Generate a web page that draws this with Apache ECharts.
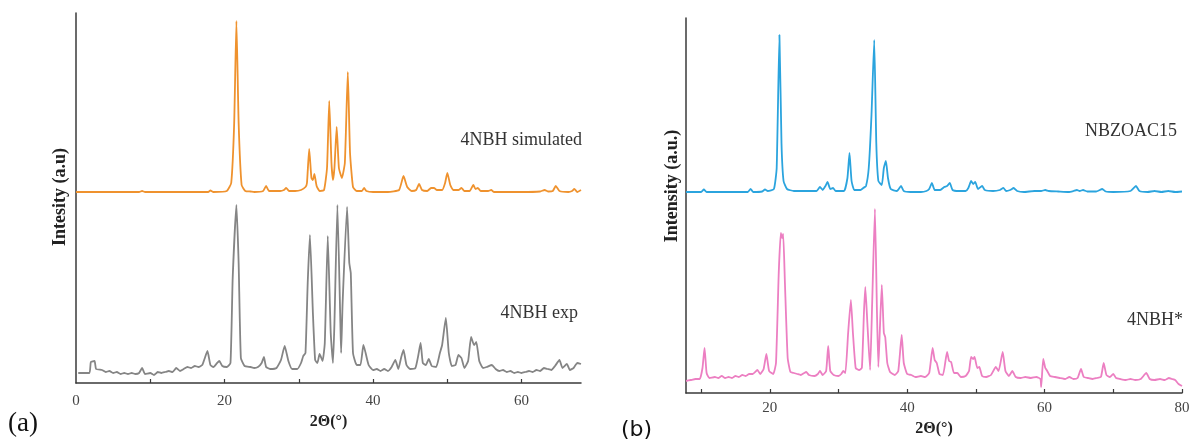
<!DOCTYPE html>
<html>
<head>
<meta charset="utf-8">
<script src="https://cdn.jsdelivr.net/npm/echarts@6/dist/echarts.min.js"></script>
<style>
  body { margin: 0; background: #fff; }
  #main { width: 1195px; height: 443px; }
</style>
</head>
<body>
<div id="main"></div>
<script>
// (a) 4NBH simulated pattern, [2theta, intensity above its own baseline]
const sim4NBH = [[0,0],[8.5,0],[8.9,1],[9.3,0],[17.8,0],[18.1,1.5],[18.5,0],[20.3,1],[20.9,9],[21.3,69],[21.6,171],[21.9,69],[22.3,7],[22.8,1],[23.5,0.5],[24,0],[25.2,1],[25.6,6],[26.0,1],[27.5,1],[28.0,2],[28.3,4],[28.7,1],[29.5,1],[30.3,2],[30.9,5],[31.1,9],[31.4,43],[31.7,14],[31.9,12],[32.1,18],[32.4,6],[32.8,1],[33.4,2],[33.8,24],[34.1,91],[34.4,29],[34.6,12],[34.8,24],[35.1,65],[35.4,24],[35.8,14],[36.2,29],[36.6,120],[36.9,39],[37.3,5],[37.8,1],[38.5,1],[38.8,4],[39.1,1],[40,0],[42,0],[43.5,2],[44.1,16],[44.6,5],[45.2,1],[45.8,2],[46.2,8],[46.6,2],[47.3,1],[47.8,4],[48.2,4],[48.6,2],[49.3,2],[49.7,9],[50.0,19],[50.4,7],[50.8,2],[51.5,2],[51.9,4],[52.3,1],[53.0,1],[53.5,7],[53.8,3],[54.1,4],[54.5,1],[55.5,1],[55.9,2],[56.3,0],[60,0],[62.5,0.5],[63.1,2],[63.6,0.5],[64.2,1],[64.6,6],[65.1,1],[66.3,0],[66.8,1],[67.1,3],[67.5,0],[68,2]];

// (a) 4NBH experimental pattern
const exp4NBH = [[0.3,10],[1.8,10],[2.0,21],[2.5,22],[2.7,14],[3.5,13],[4,11],[4.5,12],[5,10],[5.5,11],[6,9],[6.5,10],[7,9],[7.5,10],[8,9],[8.5,10],[8.9,15],[9.3,9],[10,10],[10.5,8],[11,11],[11.5,10],[12,11],[12.5,12],[13,11],[13.5,15],[14,12],[14.5,14],[15,16],[15.5,15],[16,17],[16.5,16],[17,18],[17.3,24],[17.7,32],[18.1,18],[18.5,16],[19.0,20],[19.3,22],[19.7,17],[20.3,16],[20.8,20],[21.1,105],[21.6,178],[21.9,120],[22.2,25],[22.7,17],[23.5,16],[24,15],[24.5,16],[25.0,20],[25.3,26],[25.6,16],[26.2,14],[27,15],[27.6,23],[28.1,37],[28.6,22],[29.1,14],[29.8,14],[30.3,20],[30.6,27],[30.9,30],[31.2,100],[31.5,148],[31.9,70],[32.2,23],[32.5,20],[32.8,29],[33.2,22],[33.5,40],[33.9,147],[34.3,50],[34.6,20],[34.8,60],[35.2,178],[35.6,60],[35.7,30],[35.9,80],[36.5,176],[36.8,120],[37.0,110],[37.3,30],[37.8,18],[38.3,18],[38.7,38],[39.0,30],[39.4,18],[40,13],[40.5,14],[41,12],[41.5,14],[42,12],[42.5,16],[43.0,23],[43.4,14],[43.8,26],[44.1,33],[44.5,18],[45,14],[45.7,15],[46.1,28],[46.4,40],[46.7,20],[47.1,18],[47.5,24],[47.9,17],[48.5,16],[49.0,30],[49.3,38],[49.8,65],[50.2,30],[50.6,17],[51.1,18],[51.5,28],[51.9,25],[52.3,15],[52.8,22],[53.2,46],[53.6,38],[53.9,41],[54.3,22],[54.8,15],[55.3,16],[56,18],[56.5,14],[57,12],[57.5,13],[58,11],[58.5,12],[59,10],[59.5,11],[60,10],[60.5,11],[61,12],[61.5,11],[62,13],[62.5,12],[63,15],[63.5,14],[64,13],[64.5,17],[65.1,23],[65.5,15],[66.1,19],[66.5,13],[67,15],[67.5,20],[68,19]];

// (b) NBZOAC15 reference pattern, above its own baseline
const nbzoac15 = [[7.8,0],[10.0,0],[10.4,2.5],[10.8,0],[16.8,0],[17.2,3],[17.6,0],[18.9,0.5],[19.3,2.5],[19.7,1],[20.6,3],[21.0,24],[21.4,157],[21.7,49],[22.0,11],[22.5,3],[23.5,1],[26.8,1],[27.3,5],[27.7,2],[28.1,6],[28.4,10],[28.8,3],[29.2,4],[29.6,1],[30.8,1],[31.3,14],[31.6,39],[31.9,11],[32.3,2],[33.2,2],[33.6,4],[34.0,6],[34.4,24],[34.8,77],[35.2,152],[35.5,49],[35.8,11],[36.3,7],[36.6,24],[36.9,31],[37.2,14],[37.6,3],[38.5,1],[39.1,6],[39.5,1],[40.5,0],[42,0],[42.8,1],[43.2,3],[43.6,9],[44.0,2],[44.8,2],[45.4,5],[45.8,6],[46.2,9],[46.6,2],[47.5,1],[48.5,1],[48.9,4],[49.3,11],[49.6,8],[49.9,10],[50.3,3],[50.9,6],[51.3,2],[52.5,1],[53.5,2],[54.0,4],[54.4,1],[55.0,2],[55.5,4],[56.0,1],[57,0],[58.5,1],[59.5,1],[60.1,2],[60.6,1],[62,0.5],[63.5,0],[64.2,1],[64.7,2],[65.1,1],[65.6,2],[66.2,0.5],[67.5,0.5],[68.4,3],[68.9,0.5],[70,0],[72.5,1],[73.3,6],[73.8,1],[75,0],[76,1],[77,0],[78,1],[79,0],[80,0.5]];

// (b) 4NBH* pattern
const nbhStar = [[7.8,12],[8.5,13],[9.2,14],[9.8,14],[10.2,25],[10.5,45],[10.8,20],[11.2,15],[12,16],[12.5,15],[13,17],[13.5,15],[14,16],[14.5,15],[15,17],[15.5,16],[16,18],[16.5,17],[17,19],[17.5,19],[18.2,23],[18.6,19],[19.1,24],[19.5,39],[19.9,22],[20.5,19],[20.9,30],[21.3,120],[21.6,160],[21.8,155],[21.95,159],[22.2,110],[22.6,35],[23.0,21],[23.5,20],[24,19],[24.5,18],[25,20],[25.3,21],[25.7,18],[26.5,17],[27.0,19],[27.3,22],[27.7,18],[28.2,22],[28.5,47],[28.8,22],[29.3,18],[30,17],[30.4,19],[30.7,22],[31.0,20],[31.4,60],[31.8,93],[32.1,60],[32.5,25],[33.0,23],[33.4,25],[33.7,80],[33.9,106],[34.2,70],[34.6,23],[34.9,90],[35.3,184],[35.6,80],[35.8,26],[36.0,60],[36.3,108],[36.6,60],[36.8,56],[37.1,30],[37.5,21],[38.2,18],[38.7,22],[39.2,58],[39.5,30],[40,19],[40.6,18],[41.2,16],[42,17],[42.6,16],[43.2,20],[43.7,45],[44.0,33],[44.3,30],[44.7,19],[45.2,18],[45.8,41],[46.1,32],[46.4,31],[46.8,20],[47.3,20],[47.8,16],[48.5,17],[49.0,22],[49.3,36],[49.6,34],[49.8,36],[50.2,25],[50.5,26],[50.9,17],[51.5,16],[52.2,18],[52.9,26],[53.3,22],[53.9,41],[54.3,22],[54.8,17],[55.3,22],[55.8,16],[56.5,15],[57.2,16],[58,15],[58.8,16],[59.4,14],[59.5,6],[59.8,34],[60.1,25],[60.3,23],[60.8,17],[61.5,16],[62.2,15],[63,14],[63.6,16],[64.2,14],[64.8,15],[65.3,24],[65.7,16],[66.3,15],[67,14],[67.6,15],[68.2,16],[68.6,30],[69.0,18],[69.5,16],[70,19],[70.4,15],[71,14],[71.8,13],[72.5,14],[73.2,13],[74,14],[74.8,20],[75.3,14],[76,13],[76.8,14],[77.5,13],[78.1,15],[78.5,14],[79,13],[79.5,9],[80,7]];

// stacking offsets of the upper traces
const simOffset = 191;
const nbzOffset = 201;

const tickA = [10, 20, 30, 40, 50, 60];
const labelA = [0, 20, 40, 60];
const tickB = [10, 20, 30, 40, 50, 60, 70, 80];
const labelB = [20, 40, 60, 80];

const serif = 'Liberation Serif';
const axisCol = '#3a3a3a';

function shift(arr, off) {
  return arr.map(function (p) { return [p[0], p[1] + off]; });
}

function xAx(idx, min, max, ticks, labels, gap, margin) {
  return {
    type: 'value', gridIndex: idx, min: min, max: max,
    name: '2\u0398(\u00b0)', nameLocation: 'middle', nameGap: gap,
    nameTextStyle: { fontFamily: serif, fontWeight: 'bold', fontSize: 16, color: '#222' },
    axisLine: { lineStyle: { color: axisCol, width: 1.5 } },
    axisTick: { inside: true, length: 4, customValues: ticks, lineStyle: { color: axisCol, width: 1.2 } },
    axisLabel: { customValues: labels, margin: margin, fontFamily: serif, fontSize: 15, color: '#444' },
    splitLine: { show: false }
  };
}

function yAx(idx, max) {
  return {
    type: 'value', gridIndex: idx, min: 0, max: max,
    axisLine: { show: true, lineStyle: { color: axisCol, width: 1.5 } },
    axisTick: { show: false },
    axisLabel: { show: false },
    splitLine: { show: false }
  };
}

function lineSeries(data, idx, color) {
  return {
    type: 'line', xAxisIndex: idx, yAxisIndex: idx,
    data: data, showSymbol: false, smooth: 0.15,
    lineStyle: { color: color, width: 1.8 },
    animation: false
  };
}

function label(text, x, y, size, family) {
  return {
    type: 'text', x: x, y: y,
    style: { text: text, align: 'right', verticalAlign: 'middle',
      fontFamily: family || serif, fontSize: size, fill: '#333' }
  };
}

function yTitle(text, x, y) {
  return {
    type: 'text', x: x, y: y, rotation: Math.PI / 2,
    style: { text: text, align: 'center', verticalAlign: 'middle',
      fontFamily: serif, fontWeight: 'bold', fontSize: 18, fill: '#222' }
  };
}

let myChart = echarts.init(document.getElementById('main'));
myChart.setOption({
  backgroundColor: '#fff',
  animation: false,
  grid: [
    { left: 76, top: 13, width: 505, height: 370 },
    { left: 686, top: 18, width: 496, height: 375 }
  ],
  xAxis: [
    xAx(0, 0, 68, tickA, labelA, 22, 11),
    xAx(1, 7.8, 80, tickB, labelB, 27, 8)
  ],
  yAxis: [
    yAx(0, 370),
    yAx(1, 375)
  ],
  series: [
    lineSeries(shift(sim4NBH, simOffset), 0, '#EF922E'),
    lineSeries(exp4NBH, 0, '#858585'),
    lineSeries(shift(nbzoac15, nbzOffset), 1, '#2BA4DE'),
    lineSeries(nbhStar, 1, '#EC7FC2')
  ],
  graphic: [
    yTitle('Intesity (a.u)', 60, 197),
    yTitle('Intensity (a.u.)', 672, 186),
    label('4NBH simulated', 582, 140, 18),
    label('4NBH exp', 578, 313, 18),
    label('NBZOAC15', 1177, 131, 18),
    label('4NBH*', 1183, 320, 18),
    { type: 'text', x: 8, y: 424, style: { text: '(a)', verticalAlign: 'middle', fontFamily: serif, fontSize: 27, fill: '#111' } },
    { type: 'text', x: 621, y: 430, style: { text: '(b)', verticalAlign: 'middle', fontFamily: 'DejaVu Sans', fontSize: 22, fill: '#111' } }
  ]
});
</script>
</body>
</html>
